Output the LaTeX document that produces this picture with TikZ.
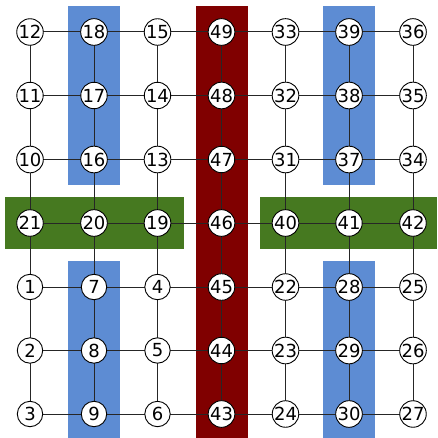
\documentclass[tikz,border=0pt]{standalone}
\usepackage{fontspec}
\setmainfont{DejaVu Sans}
\definecolor{colblue}{RGB}{93,140,211}
\definecolor{colred}{RGB}{128,0,0}
\definecolor{colgreen}{RGB}{70,121,32}
\begin{document}
\begin{tikzpicture}[x=1pt,y=-1pt,
  vtx/.style={circle,draw=black,fill=white,line width=0.9pt,minimum size=25.4pt,inner sep=0pt,font=\fontsize{18}{18}\selectfont},
  edge/.style={draw=black!85,line width=1pt}]
\useasboundingbox (0,0) rectangle (437,438);
% highlighted bands
\fill[colblue] (68,6) rectangle (120,185);
\fill[colblue] (68,261) rectangle (120,438);
\fill[colblue] (323,6) rectangle (375,185);
\fill[colblue] (323,261) rectangle (375,438);
\fill[colred] (196,6) rectangle (248,438);
\fill[colgreen] (5,197) rectangle (184,249);
\fill[colgreen] (260,197) rectangle (437,249);
% grid of vertices
\def\xs{{30,94,157.5,221.5,285.5,349,413}}
\def\ys{{32,95.5,159.5,223,287,350.5,414}}
\foreach \lab [count=\i from 0] in {12,18,15,49,33,39,36,11,17,14,48,32,38,35,10,16,13,47,31,37,34,21,20,19,46,40,41,42,1,7,4,45,22,28,25,2,8,5,44,23,29,26,3,9,6,43,24,30,27}{
  \pgfmathtruncatemacro{\r}{int(\i/7)}
  \pgfmathtruncatemacro{\c}{mod(\i,7)}
  \pgfmathsetmacro{\px}{\xs[\c]}
  \pgfmathsetmacro{\py}{\ys[\r]}
  \coordinate (p-\r-\c) at (\px,\py);
  \expandafter\xdef\csname lab-\r-\c\endcsname{\lab}
}
% edges
\foreach \r in {0,...,6}{
  \foreach \c [evaluate=\c as \cn using int(\c+1)] in {0,...,5}{
    \draw[edge] (p-\r-\c) -- (p-\r-\cn);
    \draw[edge] (p-\c-\r) -- (p-\cn-\r);
  }
}
% vertices
\foreach \r in {0,...,6}{
  \foreach \c in {0,...,6}{
    \node[vtx] (n-\r-\c) at (p-\r-\c) {\csname lab-\r-\c\endcsname};
  }
}
\end{tikzpicture}
\end{document}
